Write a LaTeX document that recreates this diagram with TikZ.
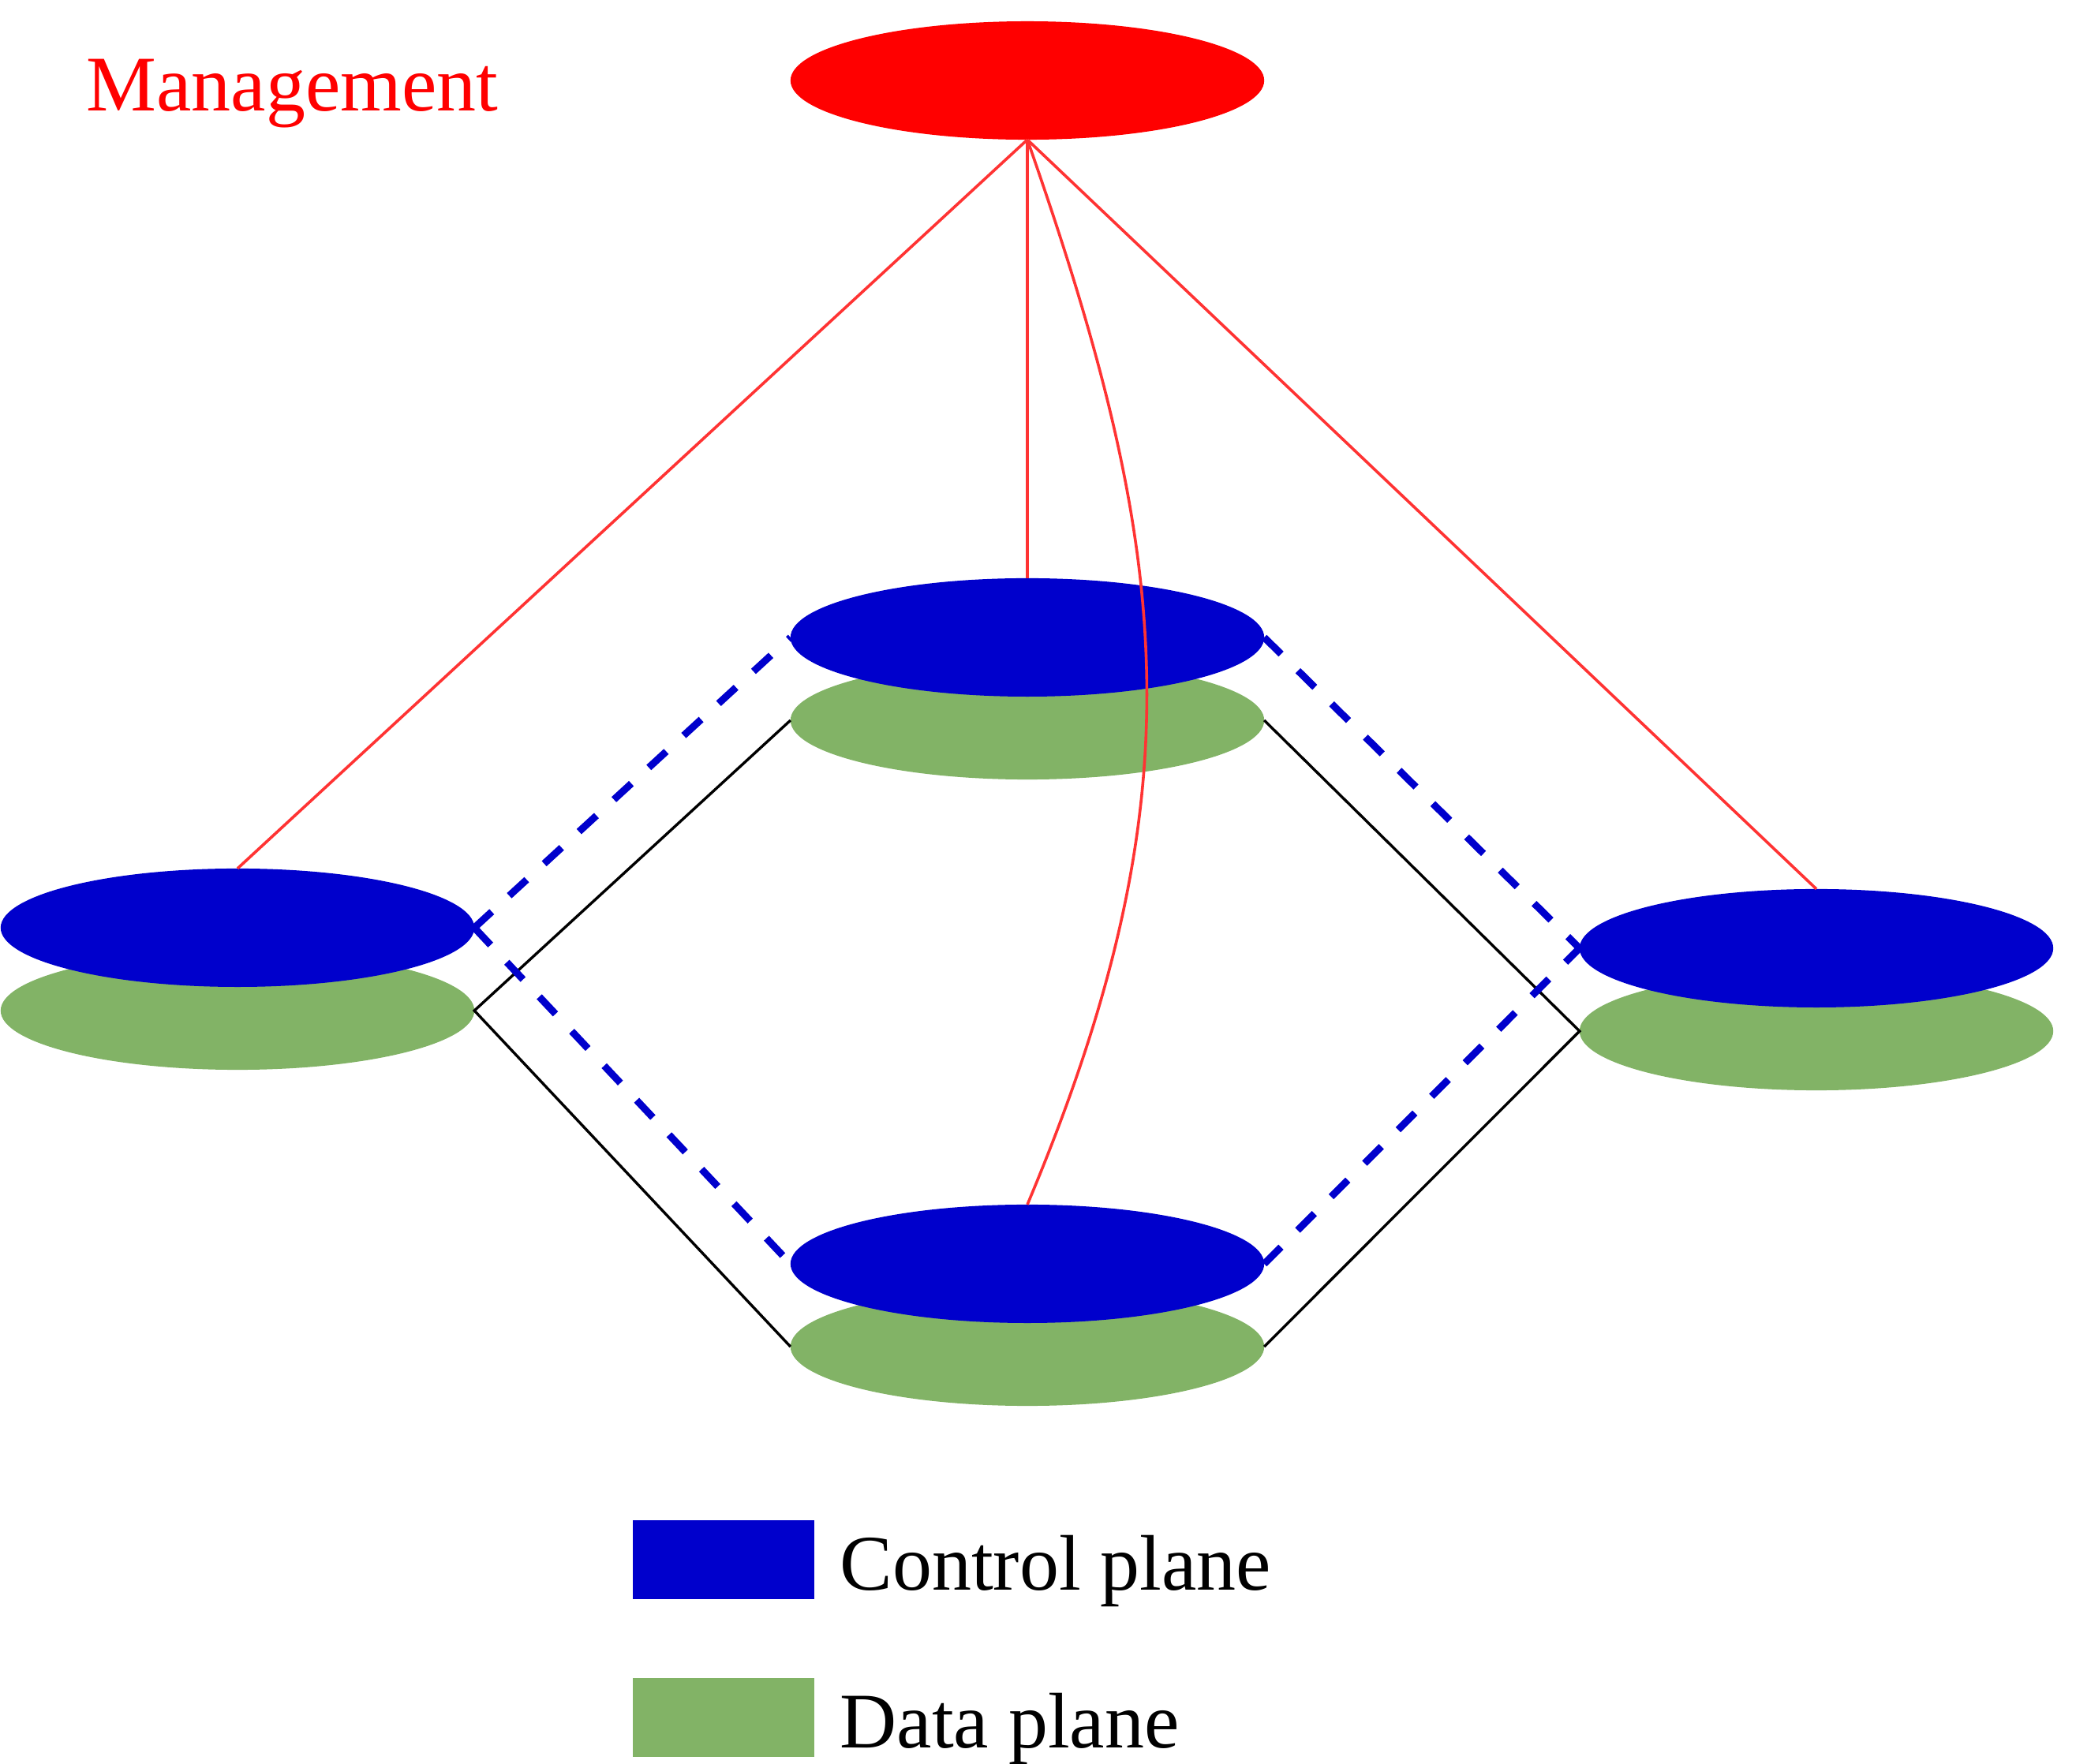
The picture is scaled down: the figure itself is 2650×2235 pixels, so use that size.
\documentclass[tikz,border=0pt]{standalone}
\usepackage{fontspec}
\setmainfont{Liberation Serif}
\usepackage{tikz}
\usetikzlibrary{shapes.geometric,positioning,calc}
\definecolor{ctlblue}{HTML}{0000CC}
\definecolor{datagreen}{HTML}{82B366}
\definecolor{mgmtred}{HTML}{FF0000}
\definecolor{linkred}{HTML}{FF3333}

\begin{document}
\begin{tikzpicture}[x=0.01cm,y=-0.01cm,
  plane/.style={ellipse,minimum width=6cm,minimum height=1.5cm,inner sep=0pt,outer sep=0pt},
  ctl/.style={plane,fill=ctlblue},
  data/.style={plane,fill=datagreen},
  mgmtlink/.style={linkred,line width=0.036cm},
  datalink/.style={black,line width=0.034cm},
  ctllink/.style={ctlblue,line width=0.09cm,dash pattern=on 0.3cm off 0.3cm},
  keybox/.style={minimum width=2.3cm,minimum height=1cm,inner sep=0pt,outer sep=0pt},
  bigtext/.style={inner sep=0pt,anchor=base west,font=\fontsize{28.4}{34}\selectfont}]
\useasboundingbox (0,0) rectangle (2650,2235);
% management
\node[plane,fill=mgmtred] (mgmt) at (1302,102) {};
\node[bigtext,text=mgmtred] (mgmttext) at (109,140) {Management};
% data plane
\node[data] (dataL) at (301,1281) {};
\node[data] (dataM) at (1302,913) {};
\node[data] (dataB) at (1302,1707) {};
\node[data] (dataR) at (2302,1307) {};
% control plane on top
\node[ctl,above=-0.45cm of dataL] (ctlL) {};
\node[ctl,above=-0.45cm of dataM] (ctlM) {};
\node[ctl,above=-0.45cm of dataB] (ctlB) {};
\node[ctl,above=-0.45cm of dataR] (ctlR) {};
% data plane links
\draw[datalink] (dataM.west) -- (dataL.east) -- (dataB.west);
\draw[datalink] (dataM.east) -- (dataR.west) -- (dataB.east);
% control plane links
\draw[ctllink] (ctlL.east) -- (ctlM.west);
\draw[ctllink] (ctlM.east) -- (ctlR.west);
\draw[ctllink] (ctlL.east) -- (ctlB.west);
\draw[ctllink] (ctlB.east) -- (ctlR.west);
% management links
\draw[mgmtlink] (mgmt.south) -- (ctlL.north);
\draw[mgmtlink] (mgmt.south) -- (ctlM.north);
\draw[mgmtlink] (mgmt.south) -- (ctlR.north);
\draw[mgmtlink] (mgmt.south) .. controls +(183,523) and +(220,-523) .. (ctlB.north);
% legend
\node[keybox,fill=ctlblue] (keyctl) at (917,1977) {};
\node[keybox,fill=datagreen] (keydata) at (917,2177) {};
\node[bigtext] (ctltext) at (1064,2015) {Control plane};
\node[bigtext] (datatext) at (1064,2215) {Data plane};
\end{tikzpicture}
\end{document}
